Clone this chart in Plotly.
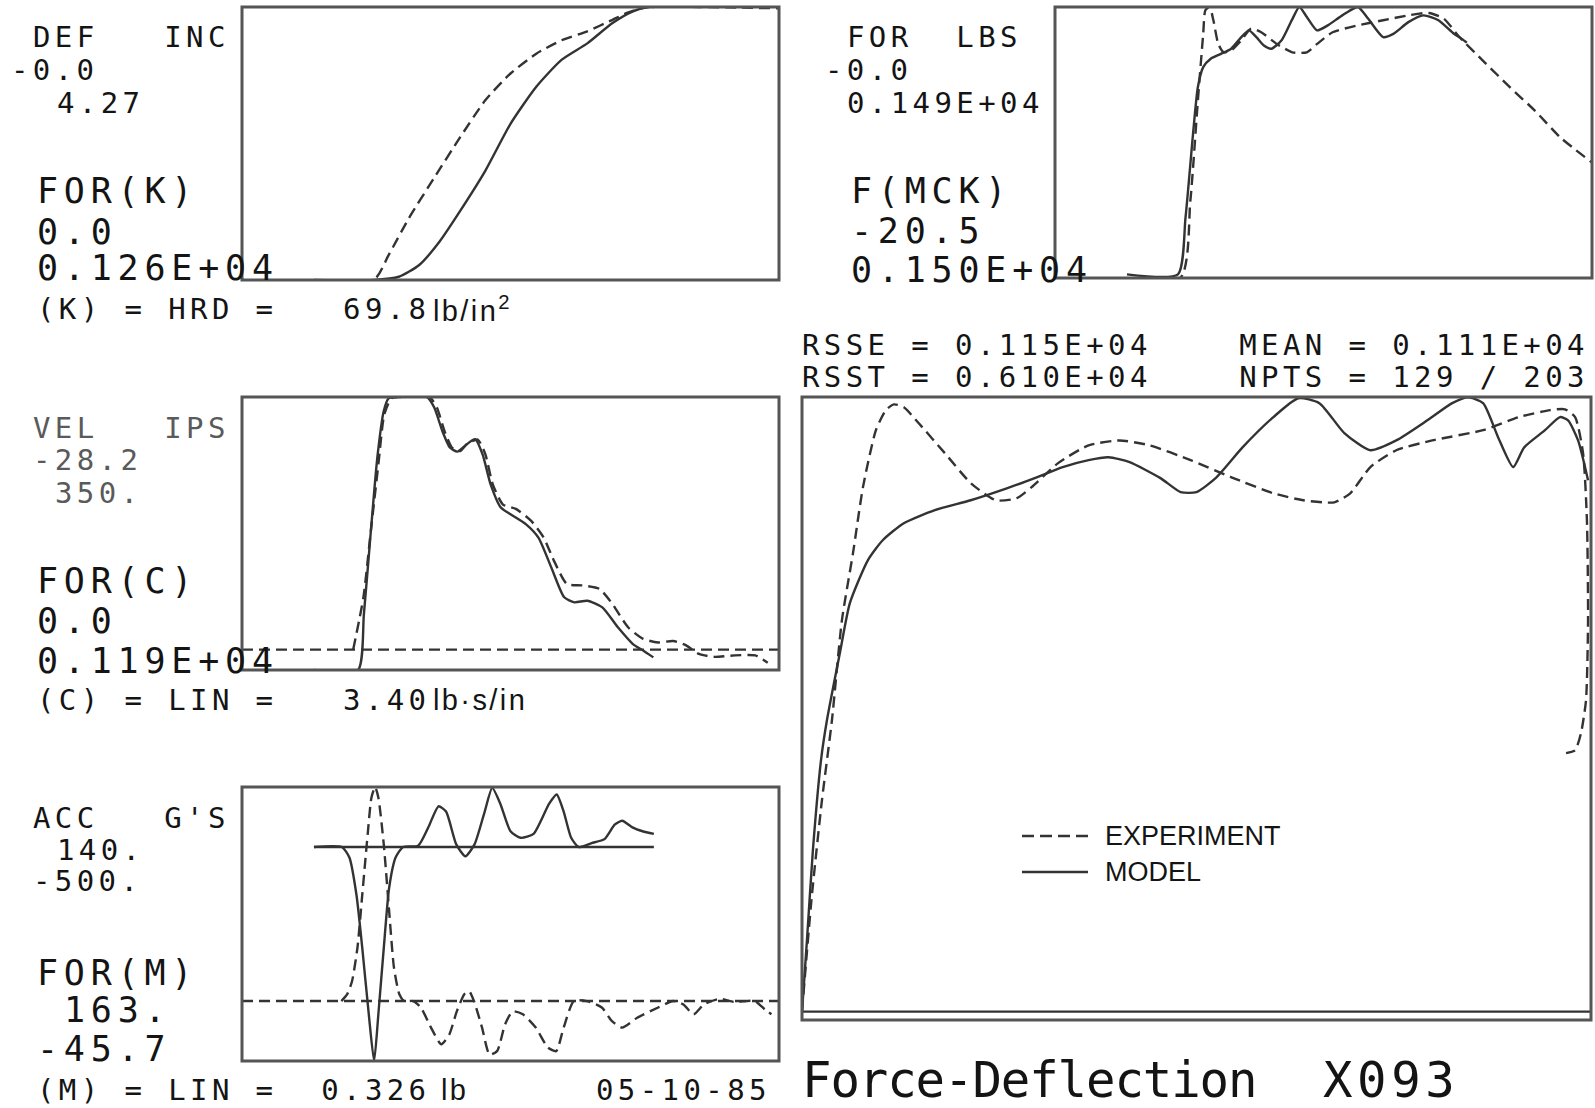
import plotly.graph_objects as go

W, H = 1595, 1108

# ---------------- data (time axis in % of record) ----------------
# Deflection panel: experiment deflection (in) and hardening-spring force (lb)
def_t = [0, 24.5, 27.3, 31.1, 35.8, 40.6, 45.3, 50.0, 54.8, 59.5, 64.3, 69.0, 71.8, 75.6, 85.0, 100]
def_in = [0, 0, 0.39, 0.97, 1.60, 2.23, 2.81, 3.23, 3.54, 3.75, 3.89, 4.07, 4.18, 4.27, 4.27, 4.25]
fork_t = [13.4, 24.5, 29.2, 33.0, 36.8, 40.6, 45.3, 50.0, 54.8, 59.5, 64.3, 69.0, 72.8, 75.6, 76.7]
fork_lb = [0, 0, 15, 69, 178, 318, 504, 721, 892, 1016, 1092, 1186, 1240, 1260, 1260]

# Force panel: measured force (lb) and model force F(MCK) (lb)
for_t = [0, 23.3, 25.2, 26.6, 27.6, 28.0, 28.8, 29.5, 30.4, 31.4, 32.8, 34.7, 36.5, 38.4, 41.3,
         44.2, 46.9, 48.8, 51.7, 56.4, 61.1, 65.8, 69.6, 72.4, 75.3, 80.0, 84.7, 89.4, 94.1, 100]
for_lb = [0, 0, 423, 974, 1342, 1472, 1490, 1417, 1287, 1241, 1252, 1307, 1371, 1351, 1287,
          1241, 1241, 1287, 1351, 1389, 1417, 1444, 1457, 1426, 1325, 1186, 1049, 919, 773, 635]
fmck_t = [13.4, 22.9, 24.3, 25.7, 26.6, 27.6, 29.0, 30.9, 32.8, 34.7, 36.1, 37.5, 38.9, 40.3, 42.2,
          44.1, 45.5, 46.9, 48.8, 50.8, 53.5, 56.4, 58.3, 61.1, 63.0, 65.8, 68.6, 71.4, 74.3, 75.7, 76.7]
fmck_lb = [0, 0, 317, 787, 1050, 1163, 1210, 1237, 1266, 1331, 1369, 1331, 1284, 1266, 1313,
           1426, 1500, 1444, 1369, 1397, 1453, 1500, 1435, 1331, 1349, 1415, 1453, 1426, 1349, 1322, 1300]

# Velocity panel: velocity (in/s) and damper force (lb)
vel_t = [20.7, 22.6, 24.0, 25.4, 26.5, 27.8, 29.2, 34.9, 36.3, 37.7, 39.1, 40.6, 41.9, 43.9, 45.3,
         46.7, 48.6, 51.0, 53.9, 56.2, 58.1, 60.5, 63.3, 66.6, 69.0, 71.9, 74.7, 77.5, 80.3, 82.7,
         85.1, 88.0, 91.8, 95.6, 97.9]
vel_ips = [0, 72, 165, 257, 326, 348, 350, 350, 335, 303, 280, 275, 285, 291, 271,
           229, 201, 195, 178, 155, 123, 91, 89, 84, 63, 31, 15, 10, 12, 6,
           -6, -10, -8, -8, -18]
forc_t = [13.4, 21.6, 22.7, 24.0, 25.2, 26.4, 27.3, 28.7, 34.4, 35.8, 37.3, 38.7, 40.1, 41.5, 43.4,
          44.8, 46.3, 48.2, 50.0, 52.9, 55.2, 57.6, 60.0, 61.9, 64.3, 67.1, 70.0, 72.8, 74.7, 76.6]
forc_lb = [0, 0, 244, 607, 926, 1129, 1184, 1190, 1190, 1144, 1042, 970, 952, 977, 1006,
           940, 809, 708, 679, 635, 577, 447, 317, 295, 302, 273, 186, 113, 85, 55]

# Acceleration panel: acceleration (g) and inertial force (lb)
acc_t = [18.5, 19.6, 20.5, 21.5, 22.4, 23.4, 24.1, 24.8, 25.4, 26.4, 27.4, 28.3, 29.3, 30.2,
         31.9, 33.3, 35.2, 37.1, 38.6, 40.0, 41.4, 42.3, 43.2, 44.7, 46.1, 47.5, 49.0, 50.4, 52.3,
         54.7, 57.0, 58.5, 59.9, 61.8, 64.2, 67.0, 68.9, 70.8, 73.6, 77.5, 80.3, 82.2, 84.1, 86.0,
         88.9, 91.7, 95.5, 97.4, 98.6]
acc_g = [0, -16, -47, -125, -249, -389, -475, -500, -475, -366, -210, -78, -16, 0,
         0, 15, 62, 101, 78, 24, -16, -23, 0, 62, 125, 117, 54, 24, 31,
         62, 109, 117, 62, 0, 0, 15, 47, 62, 39, 15, 0, 8, 31, 8,
         -5, 2, 0, 20, 31]
form_t = [13.4, 18.6, 20.0, 21.3, 22.4, 23.6, 24.6, 25.4, 26.4, 27.4, 28.6, 30.0, 32.8, 34.7, 36.6,
          38.0, 39.9, 41.6, 43.3, 45.2, 46.6, 48.1, 50.0, 51.9, 54.3, 57.2, 58.6, 59.9, 61.3, 62.7,
          65.1, 67.5, 69.4, 70.8, 72.7, 74.6, 76.7]
form_lb = [0, 0, 8, 36, 77, 127, 163, 127, 77, 31, 8, 0, -1, -15, -31,
           -27, -2, 7, -2, -27, -45, -33, -12, -7, -10, -33, -40, -27, -7, 0,
           -3, -6, -17, -20, -15, -12, -10]

# Force-deflection: experiment and model
exp_def = [0.0, 0.051, 0.108, 0.162, 0.216, 0.276, 0.330, 0.400, 0.454, 0.497, 0.551, 0.632, 0.773,
           0.913, 1.049, 1.162, 1.243, 1.384, 1.551, 1.719, 1.881, 2.103, 2.324, 2.551, 2.713, 2.881,
           2.967, 3.076, 3.216, 3.411, 3.686, 3.881, 4.048, 4.129, 4.184, 4.227, 4.248, 4.254, 4.243,
           4.216, 4.184, 4.135]
exp_lb = [0, 272, 516, 711, 955, 1119, 1280, 1419, 1468, 1482, 1475, 1436, 1363,
          1290, 1248, 1253, 1280, 1338, 1382, 1394, 1382, 1346, 1304, 1265, 1248, 1243,
          1265, 1329, 1370, 1394, 1419, 1451, 1468, 1470, 1451, 1363, 1199, 955, 760,
          680, 638, 631]
mod_def = [0.0, 0.027, 0.059, 0.103, 0.135, 0.205, 0.259, 0.357, 0.438, 0.551, 0.719, 0.913, 1.108,
           1.270, 1.411, 1.551, 1.659, 1.773, 1.940, 2.049, 2.135, 2.243, 2.384, 2.551, 2.686, 2.800,
           2.935, 3.076, 3.216, 3.384, 3.519, 3.605, 3.686, 3.767, 3.849, 3.908, 4.021, 4.102, 4.146,
           4.200, 4.254]
mod_lb = [0, 175, 394, 614, 711, 875, 997, 1102, 1151, 1192, 1224, 1248, 1277,
          1304, 1329, 1346, 1353, 1341, 1302, 1268, 1268, 1304, 1377, 1451, 1497, 1485,
          1412, 1370, 1394, 1443, 1485, 1499, 1485, 1402, 1329, 1377, 1419, 1451, 1443,
          1394, 1297]

record_span = [0, 100]      # full time record
model_span = [13.4, 76.7]   # time span covered by the model
def_span = [0, 4.27]

# ---------------- styling ----------------
INK = "#333333"
FRAME = "#555555"
TEXT = "#141414"
MONO = "DejaVu Sans Mono"
SANS = "Liberation Sans"
DASH = "11px,6px"

fig = go.Figure()


def curve(x, y, xa, ya, dashed, spline=True):
    fig.add_trace(go.Scatter(
        x=x, y=y, xaxis=xa, yaxis=ya, mode="lines", hoverinfo="skip", showlegend=False,
        line=dict(color=INK, width=2.4, dash=DASH if dashed else "solid",
                  shape="spline" if spline else "linear", smoothing=0.6)))


# deflection panel
curve(def_t, def_in, "x", "y", True)
curve(fork_t, fork_lb, "x", "y2", False)
# force panel
curve(for_t, for_lb, "x2", "y3", True)
curve(fmck_t, fmck_lb, "x2", "y4", False)
# velocity panel (dashed zero reference across the record)
curve(record_span, [0, 0], "x3", "y5", True, spline=False)
curve(vel_t, vel_ips, "x3", "y5", True)
curve(forc_t, forc_lb, "x3", "y6", False)
# acceleration panel
curve(record_span, [0, 0], "x4", "y7", True, spline=False)
curve(acc_t, acc_g, "x4", "y7", True)
curve(model_span, [0, 0], "x4", "y8", False, spline=False)
curve(form_t, form_lb, "x4", "y8", False)
# force-deflection panel
curve(def_span, [0, 0], "x5", "y9", False, spline=False)
curve(exp_def, exp_lb, "x5", "y9", True)
curve(mod_def, mod_lb, "x5", "y9", False)


def dom_x(a, b):
    return [a / W, b / W]


def dom_y(top, bottom):
    return [1 - bottom / H, 1 - top / H]


def ax(**kw):
    base = dict(visible=False, showgrid=False, zeroline=False, fixedrange=True)
    base.update(kw)
    return base


fig.update_layout(
    width=W, height=H, margin=dict(l=0, r=0, t=0, b=0),
    paper_bgcolor="white", plot_bgcolor="white", showlegend=False,
    xaxis=ax(domain=dom_x(242, 779), range=[0, 100], anchor="y"),
    yaxis=ax(domain=dom_y(7, 280), range=[0, 4.27], anchor="x"),
    yaxis2=ax(overlaying="y", anchor="x", range=[0, 1260]),
    xaxis2=ax(domain=dom_x(1055, 1592), range=[0, 100], anchor="y3"),
    yaxis3=ax(domain=dom_y(7, 278), range=[0, 1490], anchor="x2"),
    yaxis4=ax(overlaying="y3", anchor="x2", range=[-20.5, 1500]),
    xaxis3=ax(domain=dom_x(242, 779), range=[0, 100], anchor="y5"),
    yaxis5=ax(domain=dom_y(397, 670), range=[-28.2, 350], anchor="x3"),
    yaxis6=ax(overlaying="y5", anchor="x3", range=[0, 1190]),
    xaxis4=ax(domain=dom_x(242, 779), range=[0, 100], anchor="y7"),
    yaxis7=ax(domain=dom_y(787, 1061), range=[140, -500], anchor="x4"),
    yaxis8=ax(overlaying="y7", anchor="x4", range=[163, -45.7]),
    xaxis5=ax(domain=dom_x(802, 1591), range=[0, 4.27], anchor="y9"),
    yaxis9=ax(domain=dom_y(397, 1020), range=[-20.5, 1500], anchor="x5"),
)

# panel frames
for xa, ya in [("x", "y"), ("x2", "y3"), ("x3", "y5"), ("x4", "y7"), ("x5", "y9")]:
    fig.add_shape(type="rect", xref=f"{xa} domain", yref=f"{ya} domain",
                  x0=0, x1=1, y0=0, y1=1, line=dict(color=FRAME, width=3), layer="above")

# legend samples
for y_px, dash in [(836, "12px,6px"), (872, "solid")]:
    fig.add_shape(type="line", xref="paper", yref="paper",
                  x0=1022 / W, x1=1088 / W, y0=1 - y_px / H, y1=1 - y_px / H,
                  line=dict(color=INK, width=2.4, dash=dash))


def label(x, y, text, size, spacing=0.0, color=TEXT, family=MONO):
    txt = text.replace(" ", "\u00a0")
    if spacing:
        txt = f'<span style="letter-spacing:{spacing}px">{txt}</span>'
    fig.add_annotation(xref="paper", yref="paper", x=x / W, y=1 - y / H,
                       xanchor="left", yanchor="middle", showarrow=False, borderpad=0,
                       text=txt, font=dict(family=family, size=size, color=color))


S, SL = 29, 4.4      # small plotter text
L, LL = 35, 5.8      # large plotter text
U, UL = 29, 2.4      # typed unit text
GREY = "#5a5a5a"

# deflection panel labels
label(32, 37, "DEF   INC", S, SL)
label(10, 70, "-0.0", S, SL)
label(56, 103, "4.27", S, SL)
label(36, 191, "FOR(K)", L, LL)
label(36, 232, "0.0", L, LL)
label(36, 268, "0.126E+04", L, LL)
label(36, 309, "(K) = HRD =   69.8", S, SL)
label(432, 309, "lb/in<sup>2</sup>", U, UL, family=SANS)

# force panel labels
label(846, 37, "FOR  LBS", S, SL)
label(824, 70, "-0.0", S, SL)
label(846, 103, "0.149E+04", S, SL)
label(850, 191, "F(MCK)", L, LL)
label(850, 231, "-20.5", L, LL)
label(850, 270, "0.150E+04", L, LL)

# fit statistics
label(801, 345, "RSSE = 0.115E+04    MEAN = 0.111E+04", S, SL)
label(801, 377, "RSST = 0.610E+04    NPTS = 129 / 203", S, SL)

# velocity panel labels
label(32, 428, "VEL   IPS", S, SL, color=GREY)
label(32, 460, "-28.2", S, SL, color=GREY)
label(54, 493, "350.", S, SL, color=GREY)
label(36, 581, "FOR(C)", L, LL)
label(36, 621, "0.0", L, LL)
label(36, 661, "0.119E+04", L, LL)
label(36, 700, "(C) = LIN =   3.40", S, SL)
label(432, 700, "lb\u00b7s/in", U, UL, family=SANS)

# acceleration panel labels
label(32, 818, "ACC   G'S", S, SL)
label(56, 850, "140.", S, SL)
label(32, 881, "-500.", S, SL)
label(36, 973, "FOR(M)", L, LL)
label(63, 1010, "163.", L, LL)
label(36, 1049, "-45.7", L, LL)
label(36, 1090, "(M) = LIN =  0.326", S, SL)
label(440, 1090, "lb", U, UL, family=SANS)
label(595, 1090, "05-10-85", S, SL)

# legend text and title
label(1104, 836, "EXPERIMENT", 27, family=SANS)
label(1104, 872, "MODEL", 27, family=SANS)
label(801, 1080, "Force-Deflection", 49, -1.1)
label(1322, 1080, "X093", 49, 4.6)

fig.write_html("out.html")
